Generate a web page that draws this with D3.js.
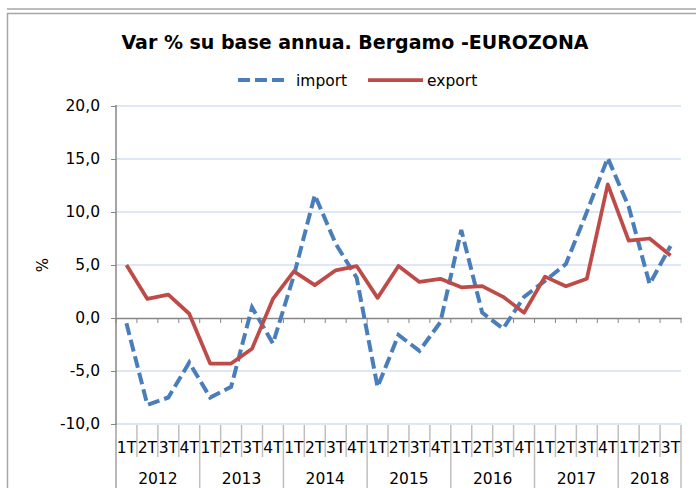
<!DOCTYPE html>
<html>
<head>
<meta charset="utf-8">
<script src="https://cdn.jsdelivr.net/npm/d3@7"></script>
<style>
  body { margin: 0; background: #fff; }
  svg { display: block; font-family: "DejaVu Sans", Verdana, sans-serif; }
</style>
</head>
<body>
<svg id="chart" width="696" height="488"></svg>
<script>
  var years = ["2012", "2013", "2014", "2015", "2016", "2017", "2018"];
  var quarters = ["1T", "2T", "3T", "4T"];
  var importVals = [-0.5, -8.2, -7.5, -4.2, -7.5, -6.5, 1.0, -2.4, 4.0, 11.6, 7.0, 3.8,
                    -6.5, -1.6, -3.1, -0.4, 8.3, 0.5, -1.0, 2.0, 3.5, 5.1, 10.0, 15.1,
                    10.5, 3.2, 6.8];
  var exportVals = [5.0, 1.8, 2.2, 0.4, -4.3, -4.3, -2.9, 1.8, 4.4, 3.1, 4.5, 4.9,
                    1.9, 4.9, 3.4, 3.7, 2.9, 3.0, 2.0, 0.5, 3.9, 3.0, 3.7, 12.6,
                    7.3, 7.5, 5.9];
  var yTicks = [-10, -5, 0, 5, 10, 15, 20];

(function () {
  var periods = [];
  years.forEach(function (yr) {
    quarters.forEach(function (q) {
      if (yr === "2018" && q === "4T") return;
      periods.push(yr + " " + q);
    });
  });

  var svg = d3.select("#chart");
  var plotL = 116, plotR = 681, plotT = 106, plotB = 424;

  var x = d3.scaleBand().domain(periods).range([plotL, plotR]);
  var y = d3.scaleLinear().domain([-10, 20]).range([plotB, plotT]);
  var fmt = function (v) { return d3.format(".1f")(v).replace(".", ",").replace("−", "-"); };

  // frame bits
  svg.append("line").attr("x1", 7).attr("x2", 696).attr("y1", 9).attr("y2", 9)
    .attr("stroke", "#bdbdbd").attr("stroke-width", 2);
  svg.append("rect").attr("x", 7.5).attr("y", 13.5).attr("width", 700).attr("height", 480)
    .attr("fill", "none").attr("stroke", "#a6a6a6").attr("stroke-width", 1.5);

  // title
  svg.append("text").attr("x", 355).attr("y", 49).attr("text-anchor", "middle")
    .attr("font-weight", "bold").attr("font-size", 19).attr("fill", "#000")
    .text("Var % su base annua. Bergamo -EUROZONA");

  // gridlines
  svg.append("g").selectAll("line").data(yTicks.filter(function (d) { return d !== 0; }))
    .enter().append("line")
    .attr("x1", plotL).attr("x2", plotR)
    .attr("y1", function (d) { return y(d); }).attr("y2", function (d) { return y(d); })
    .attr("stroke", "#d3dff2").attr("stroke-width", 1.5);

  // y axis
  var yAxis = svg.append("g").attr("transform", "translate(" + plotL + ",0)")
    .call(d3.axisLeft(y).tickValues(yTicks).tickFormat(fmt).tickSize(5).tickPadding(11));
  yAxis.select(".domain").remove();
  yAxis.selectAll(".tick line").attr("stroke", "#868686");
  yAxis.selectAll("text").attr("font-size", 15.5).attr("fill", "#000")
    .attr("font-family", "DejaVu Sans, sans-serif");
  svg.append("line").attr("x1", plotL).attr("x2", plotL).attr("y1", plotT - 1).attr("y2", 488)
    .attr("stroke", "#868686").attr("stroke-width", 1.5);

  svg.append("text").attr("transform", "translate(48," + y(5) + ") rotate(-90)")
    .attr("text-anchor", "middle").attr("font-size", 15).text("%");

  // x axis at zero
  var xAxis = svg.append("g").attr("transform", "translate(0," + y(0) + ")")
    .call(d3.axisBottom(x).tickSize(0).tickFormat(""));
  xAxis.select(".domain").attr("stroke", "#868686").attr("stroke-width", 1.5);
  var bounds = periods.map(function (p) { return x(p); }).concat([plotR]);
  xAxis.selectAll(".qtick").data(bounds).enter().append("line")
    .attr("x1", function (d) { return d; }).attr("x2", function (d) { return d; })
    .attr("y1", 0).attr("y2", 5).attr("stroke", "#868686");

  // category labels at the bottom
  var cat = svg.append("g");
  cat.selectAll(".sep").data(bounds).enter().append("line")
    .attr("x1", function (d) { return d; }).attr("x2", function (d) { return d; })
    .attr("y1", plotB + 1)
    .attr("y2", function (d, i) { return (i % 4 === 0 || i === bounds.length - 1) ? 488 : 457; })
    .attr("stroke", "#bfbfbf").attr("stroke-width", 1.5);
  cat.selectAll(".q").data(periods).enter().append("text")
    .attr("x", function (d) { return x(d) + x.bandwidth() / 2; })
    .attr("y", 453).attr("text-anchor", "middle").attr("font-size", 15.5)
    .text(function (d) { return d.split(" ")[1]; });
  cat.selectAll(".yr").data(years).enter().append("text")
    .attr("x", function (d) {
      var ps = periods.filter(function (p) { return p.indexOf(d) === 0; });
      return (x(ps[0]) + x(ps[ps.length - 1]) + x.bandwidth()) / 2;
    })
    .attr("y", 484).attr("text-anchor", "middle").attr("font-size", 15.5)
    .text(function (d) { return d; });

  // lines
  var line = d3.line()
    .x(function (d, i) { return x(periods[i]) + x.bandwidth() / 2; })
    .y(function (d) { return y(d); });
  svg.append("path").datum(importVals).attr("d", line).attr("fill", "none")
    .attr("stroke", "#4a7ebb").attr("stroke-width", 4).attr("stroke-dasharray", "12,5");
  svg.append("path").datum(exportVals).attr("d", line).attr("fill", "none")
    .attr("stroke", "#be4b48").attr("stroke-width", 3.75).attr("stroke-linejoin", "round");

  // legend
  var lg = svg.append("g");
  lg.append("line").attr("x1", 238).attr("x2", 287).attr("y1", 80).attr("y2", 80)
    .attr("stroke", "#4a7ebb").attr("stroke-width", 4).attr("stroke-dasharray", "12,5");
  lg.append("text").attr("x", 296).attr("y", 86).attr("font-size", 15.5).text("import");
  lg.append("line").attr("x1", 368).attr("x2", 423).attr("y1", 80).attr("y2", 80)
    .attr("stroke", "#be4b48").attr("stroke-width", 3.75);
  lg.append("text").attr("x", 427).attr("y", 86).attr("font-size", 15.5).text("export");
})();
</script>
</body>
</html>
